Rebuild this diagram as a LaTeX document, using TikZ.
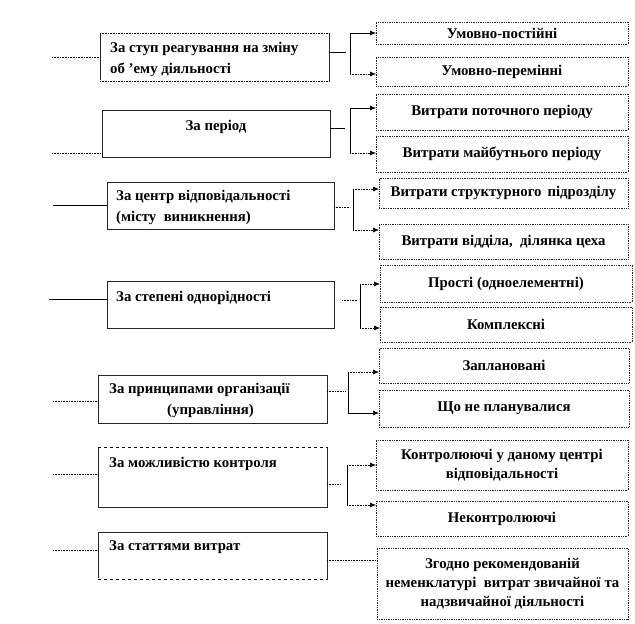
\documentclass[tikz,border=0pt]{standalone}
\usepackage{fontspec}
\setmainfont{Liberation Serif}
\usetikzlibrary{arrows.meta}
\tikzset{
  bx/.style={draw=black!85, line width=0.75pt, inner sep=0pt, outer sep=0pt, anchor=north west},
  rbx/.style={bx, densely dotted, line width=0.9pt, align=center, font=\fontsize{14.8}{18.8}\selectfont\bfseries},
  lab/.style={font=\fontsize{14.8}{21}\selectfont\bfseries, inner sep=0pt, align=left, anchor=west},
  ln/.style={line width=0.6pt},
  dln/.style={line width=0.6pt, densely dotted},
  arr/.style={-{Latex[length=6pt,width=5pt]}},
  wht/.style={draw=white, line width=1.2pt},
}
\begin{document}
\begin{tikzpicture}[x=1pt,y=-1pt]
\useasboundingbox (0,0) rectangle (635,624);

% ---- left boxes ----
\node[bx, minimum width=229pt, minimum height=48pt] (b1) at (100,33) {};
\node[bx, minimum width=228pt, minimum height=47pt] (b2) at (102,110) {};
\node[bx, minimum width=227pt, minimum height=47pt] (b3) at (107,182) {};
\node[bx, minimum width=227pt, minimum height=47pt] (b4) at (107,281) {};
\node[bx, minimum width=229pt, minimum height=48pt] (b5) at (98,375) {};
\node[bx, minimum width=229pt, minimum height=60pt] (b6) at (98,447) {};
\node[bx, minimum width=229pt, minimum height=47pt] (b7) at (98,532) {};
\draw[wht] (b1.north west) -- (b1.north east);
\draw[dln] (b1.north west) -- (b1.north east);
\draw[wht] (b1.south west) -- (b1.south east);
\draw[dln] (b1.south west) -- (b1.south east);
\draw[wht] (b6.north west) -- (b6.north east);
\draw[ln, dashed] (b6.north west) -- (b6.north east);
\draw[wht] (b7.south west) -- (b7.south east);
\draw[ln, dashed] (b7.south west) -- (b7.south east);

\node[lab] (t1) at (110,59) {За ступ реагування на зміну\\об ’ему діяльності};
\node[lab, anchor=center] (t2) at (216,127) {За період};
\node[lab] (t3) at (116,207.5) {За центр відповідальності\\(місту\ \ виникнення)};
\node[lab] (t4) at (116,298) {За степені однорідності};
\node[lab] (t5) at (109,400) {За принципами організації\\\hspace*{58pt}(управління)};
\node[lab] (t6) at (109,464) {За можливістю контроля};
\node[lab] (t7) at (109,547) {За статтями витрат};

% ---- right boxes ----
\node[rbx, minimum width=252pt, minimum height=22pt] (r1) at (376,22) {Умовно-постійні};
\node[rbx, minimum width=252pt, minimum height=29pt] (r2) at (376,57) {Умовно-перемінні};
\node[rbx, minimum width=252pt, minimum height=36pt] (r3) at (376,94) {Витрати поточного періоду};
\node[rbx, minimum width=252pt, minimum height=36pt] (r4) at (376,136) {Витрати майбутнього періоду};
\node[rbx, minimum width=249pt, minimum height=30pt] (r5) at (379,178) {Витрати структурного\hspace{6pt}підрозділу};
\node[rbx, minimum width=249pt, minimum height=35pt] (r6) at (379,224) {Витрати відділа,\ \ ділянка цеха};
\node[rbx, minimum width=252pt, minimum height=37pt] (r7) at (380,265) {Прості (одноелементні)};
\node[rbx, minimum width=252pt, minimum height=35pt] (r8) at (380,307) {Комплексні};
\node[rbx, minimum width=250pt, minimum height=35pt] (r9) at (379,348) {Заплановані};
\node[rbx, minimum width=250pt, minimum height=37pt] (r10) at (379,390) {Що не планувалися};
\node[rbx, minimum width=252pt, minimum height=50pt] (r11) at (376,440) {Контролюючі у даному центрі\\відповідальності};
\node[rbx, minimum width=252pt, minimum height=35pt] (r12) at (376,501) {Неконтролюючі};
\node[rbx, minimum width=251pt, minimum height=71pt] (r13) at (377,548) {Згодно рекомендованій\\неменклатурі\ \ витрат звичайної та\\надзвичайної діяльності};

% ---- left free lines ----
\coordinate (l1) at (52,57);
\coordinate (l2) at (52,153);
\coordinate (l3) at (53,205);
\coordinate (l4) at (49,299);
\coordinate (l5) at (53,401);
\coordinate (l6) at (53,474);
\coordinate (l7) at (53,550);
\draw[dln] (l1) -- (l1 -| b1.west);
\draw[dln] (l2) -- (l2 -| b2.west);
\draw[ln]  (l3) -- (l3 -| b3.west);
\draw[ln]  (l4) -- (l4 -| b4.west);
\draw[dln] (l5) -- (l5 -| b5.west);
\draw[dln] (l6) -- (l6 -| b6.west);
\draw[dln] (l7) -- (l7 -| b7.west);

% ---- stubs ----
\coordinate (s1) at (346,52);
\coordinate (s2) at (345,128);
\coordinate (s3) at (350,207);
\coordinate (s4a) at (342,300);
\coordinate (s4) at (357,300);
\coordinate (s5) at (345,391);
\coordinate (s6) at (340,484);
\coordinate (s7) at (327,560);
\draw[ln]  (b1.east |- s1) -- (s1);
\draw[ln]  (b2.east |- s2) -- (s2);
\draw[dln] (b3.east |- s3) -- (s3);
\draw[dln] (s4a) -- (s4);
\draw[dln] (b5.east |- s5) -- (s5);
\draw[dln] (b6.east |- s6) -- (s6);
\draw[dln] (b7.east |- s7) -- (s7 -| r13.west);

% ---- brackets ----
\coordinate (k1) at (350,33);  \coordinate (m1) at (350,74);
\coordinate (k2) at (350,108); \coordinate (m2) at (350,153);
\coordinate (k3) at (353,189); \coordinate (m3) at (353,230);
\coordinate (k4) at (360,284); \coordinate (m4) at (360,328);
\coordinate (k5) at (348,372); \coordinate (m5) at (348,413);
\coordinate (k6) at (347,465); \coordinate (m6) at (347,505);

\draw[ln] (k1) -- (m1);
\draw[ln, arr]  (k1) -- (k1 -| r1.west);
\draw[dln, arr] (m1) -- (m1 -| r2.west);
\draw[ln] (k2) -- (m2);
\draw[ln, arr]  (k2) -- (k2 -| r3.west);
\draw[dln, arr] (m2) -- (m2 -| r4.west);
\draw[ln] (k3) -- (m3);
\draw[dln, arr] (k3) -- (k3 -| r5.west);
\draw[dln, arr] (m3) -- (m3 -| r6.west);
\draw[ln] (k4) -- (m4);
\draw[dln, arr] (k4) -- (k4 -| r7.west);
\draw[dln, arr] (m4) -- (m4 -| r8.west);
\draw[ln] (k5) -- (m5);
\draw[dln, arr] (k5) -- (k5 -| r9.west);
\draw[ln, arr]  (m5) -- (m5 -| r10.west);
\draw[ln] (k6) -- (m6);
\draw[dln, arr] (k6) -- (k6 -| r11.west);
\draw[dln, arr] (m6) -- (m6 -| r12.west);
\end{tikzpicture}
\end{document}
